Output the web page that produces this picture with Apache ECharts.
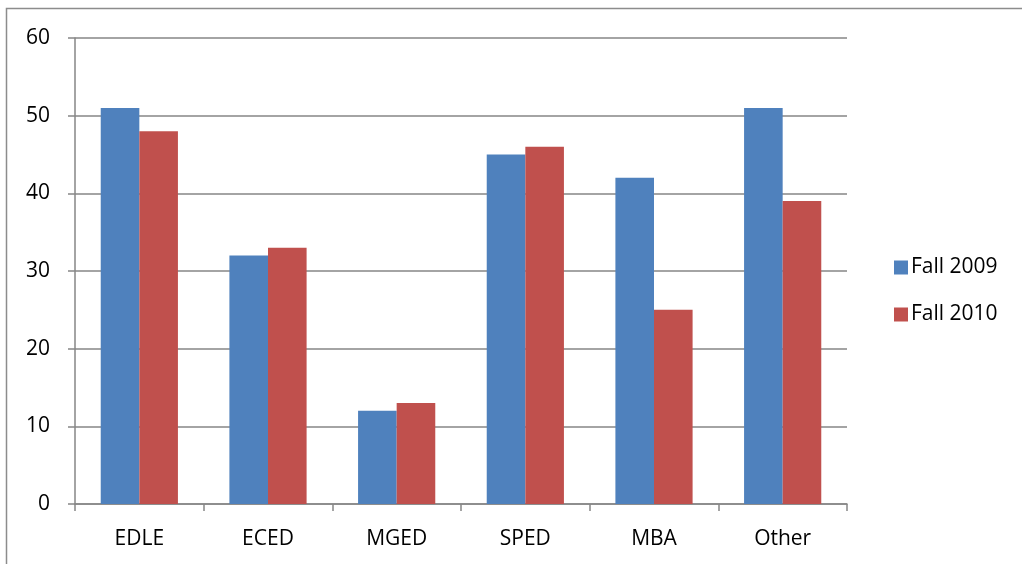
<!DOCTYPE html>
<html>
<head>
<meta charset="utf-8">
<style>
  html, body { margin: 0; padding: 0; background: #fff; }
  #chart { width: 1022px; height: 564px; }
</style>
<script src="https://cdn.jsdelivr.net/npm/echarts@6/dist/echarts.min.js"></script>
</head>
<body>
<div id="chart"></div>
<script>
// Enrollment counts by program
const categories = ['EDLE', 'ECED', 'MGED', 'SPED', 'MBA', 'Other'];
const fall2009 = [51, 32, 12, 45, 42, 51];
const fall2010 = [48, 33, 13, 46, 25, 39];
const seriesNames = ['Fall 2009', 'Fall 2010'];

const FONT = '"Open Sans", "Noto Sans", sans-serif';
const chart = echarts.init(document.getElementById('chart'), null, { renderer: 'canvas' });

chart.setOption({
  animation: false,
  textStyle: { fontFamily: FONT },
  graphic: [{
    type: 'rect',
    shape: { x: 6.5, y: 8.5, width: 1100, height: 700 },
    style: { fill: null, stroke: '#8c8c8c', lineWidth: 1.5 },
    silent: true,
    z: -1
  }],
  legend: {
    orient: 'vertical',
    left: 889,
    top: 252,
    itemWidth: 14,
    itemHeight: 14,
    itemGap: 26,
    icon: 'rect',
    textStyle: { fontSize: 21, color: '#000', fontFamily: FONT, padding: [0, 0, 0, -2] },
    data: seriesNames
  },
  grid: { left: 75, right: 175, top: 38, bottom: 60, containLabel: false },
  xAxis: {
    type: 'category',
    data: categories,
    axisLine: { lineStyle: { color: '#868686', width: 1.5 } },
    axisTick: { show: true, length: 7, alignWithLabel: false, lineStyle: { color: '#868686', width: 1.5 } },
    axisLabel: { color: '#000', fontSize: 21, margin: 25, fontFamily: FONT }
  },
  yAxis: {
    type: 'value',
    min: 0,
    max: 60,
    interval: 10,
    axisLine: { show: true, lineStyle: { color: '#868686', width: 1.5 } },
    axisTick: { show: true, length: 7, lineStyle: { color: '#868686', width: 1.5 } },
    splitLine: { lineStyle: { color: '#868686', width: 1.5 } },
    axisLabel: { color: '#000', fontSize: 21, margin: 25, fontFamily: FONT }
  },
  series: [
    {
      name: seriesNames[0],
      type: 'bar',
      data: fall2009,
      itemStyle: { color: '#4F81BD' },
      barGap: '0%',
      barCategoryGap: '40%'
    },
    {
      name: seriesNames[1],
      type: 'bar',
      data: fall2010,
      itemStyle: { color: '#C0504D' },
      barGap: '0%',
      barCategoryGap: '40%'
    }
  ]
});
</script>
</body>
</html>
